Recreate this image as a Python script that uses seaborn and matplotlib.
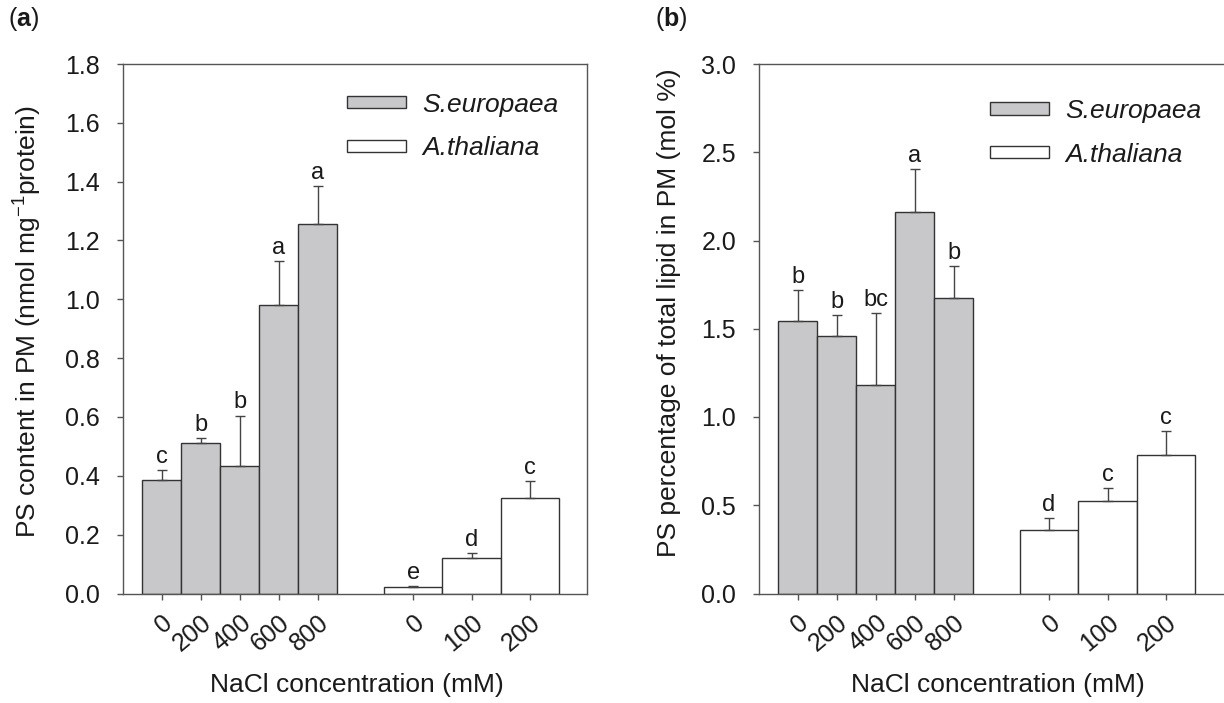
import numpy as np
import pandas as pd
import matplotlib
matplotlib.use("Agg")
import matplotlib.pyplot as plt
import seaborn as sns
from matplotlib.patches import Patch

# ---------------- data ----------------
se_labels = ["0", "200", "400", "600", "800"]
at_labels = ["0", "100", "200"]
species = ["S.europaea", "A.thaliana"]

# panel (a): PS content in PM
a_se_mean = [0.385, 0.510, 0.434, 0.982, 1.257]
a_se_err = [0.035, 0.020, 0.171, 0.149, 0.129]
a_se_letters = ["c", "b", "b", "a", "a"]
a_at_mean = [0.022, 0.120, 0.326]
a_at_err = [0.004, 0.019, 0.055]
a_at_letters = ["e", "d", "c"]

# panel (b): PS percentage of total lipid
b_se_mean = [1.545, 1.457, 1.181, 2.160, 1.675]
b_se_err = [0.175, 0.122, 0.410, 0.245, 0.179]
b_se_letters = ["b", "b", "bc", "a", "b"]
b_at_mean = [0.357, 0.526, 0.783]
b_at_err = [0.069, 0.070, 0.139]
b_at_letters = ["d", "c", "c"]

# ---------------- style ----------------
sns.set_theme(style="white")
plt.rcParams["font.family"] = ["Liberation Sans", "DejaVu Sans"]
plt.rcParams["mathtext.fontset"] = "custom"
plt.rcParams["mathtext.rm"] = "Liberation Sans"
plt.rcParams["mathtext.it"] = "Liberation Sans:italic"
plt.rcParams["mathtext.bf"] = "Liberation Sans:bold"

GRAY = "#c8c8ca"
EDGE = "#333333"
AXC = "#555555"
TXT = "#1a1a1a"

TICK_FS = 18
LAB_FS = 19
LET_FS = 17
LEG_FS = 19

# layout positions (in bar-width units)
se_pos = np.arange(1, 6, dtype=float)
at_pos = 7.44 + 1.5 * np.arange(3)
XMAX = 11.9

fig = plt.figure(figsize=(12.24, 7.03), dpi=100)
W = 464 / 1224
ax_a = fig.add_axes([123 / 1224, 1 - 593.5 / 703, W, 529.5 / 703])
ax_b = fig.add_axes([759 / 1224, 1 - 593.5 / 703, W, 529.5 / 703])


def draw(ax, se_m, se_e, se_l, at_m, at_e, at_l, ymax, ystep, ylabel, ylab_xy, xlab_xy, leg_xy):
    df_se = pd.DataFrame({"x": se_pos, "y": se_m})
    df_at = pd.DataFrame({"x": at_pos, "y": at_m})
    sns.barplot(data=df_se, x="x", y="y", native_scale=True, width=1.0,
                color=GRAY, saturation=1, edgecolor=EDGE, linewidth=1.0,
                errorbar=None, ax=ax)
    sns.barplot(data=df_at, x="x", y="y", native_scale=True, width=1.0,
                color="white", saturation=1, edgecolor=EDGE, linewidth=1.0,
                errorbar=None, ax=ax)
    for pos, m, e, labs in [(se_pos, se_m, se_e, se_l), (at_pos, at_m, at_e, at_l)]:
        m = np.asarray(m)
        e = np.asarray(e)
        ax.errorbar(pos, m, yerr=[np.zeros_like(e), e], fmt="none",
                    ecolor="#444444", elinewidth=1.0, capsize=3.5, capthick=1.0)
        for p, top, lab in zip(pos, m + e, labs):
            ax.annotate(lab, (p, top), xytext=(0, 1.5), textcoords="offset points",
                        ha="center", va="bottom", fontsize=LET_FS, color=TXT)
    ax.set_xlim(0, XMAX)
    ax.set_ylim(0, ymax)
    ticks = np.arange(0, ymax + ystep / 2, ystep)
    ax.set_yticks(ticks)
    ax.set_yticklabels([f"{t:.1f}" for t in ticks], fontsize=TICK_FS, color=TXT)
    ax.set_xticks(np.concatenate([se_pos, at_pos]))
    ax.set_xticklabels(se_labels + at_labels, rotation=40, ha="right",
                       rotation_mode="anchor", fontsize=TICK_FS, color=TXT)
    ax.tick_params(axis="both", direction="out", length=4.5, width=1.0,
                   color=AXC, left=True, bottom=True)
    ax.tick_params(axis="y", pad=12)
    ax.tick_params(axis="x", pad=8)
    for s in ax.spines.values():
        s.set_color(AXC)
        s.set_linewidth(1.0)
    ax.set_ylabel(ylabel, fontsize=LAB_FS, color=TXT)
    ax.yaxis.set_label_coords(*ylab_xy)
    ax.set_xlabel("NaCl concentration (mM)", fontsize=LAB_FS, color=TXT)
    ax.xaxis.set_label_coords(*xlab_xy)
    handles = [Patch(facecolor=GRAY, edgecolor=EDGE, linewidth=1.0),
               Patch(facecolor="white", edgecolor=EDGE, linewidth=1.0)]
    leg = ax.legend(handles, species, loc="center left", bbox_to_anchor=leg_xy,
                    frameon=False, handlelength=2.25, handleheight=0.35,
                    handletextpad=0.6, labelspacing=0.75, borderpad=0,
                    borderaxespad=0, prop={"style": "italic", "size": LEG_FS})
    for t in leg.get_texts():
        t.set_color(TXT)


draw(ax_a, a_se_mean, a_se_err, a_se_letters, a_at_mean, a_at_err, a_at_letters,
     1.8, 0.2, r"PS content in PM (nmol mg$^{-1}$protein)",
     (-0.170, 0.514), (0.505, -0.150), (0.483, 0.882))
draw(ax_b, b_se_mean, b_se_err, b_se_letters, b_at_mean, b_at_err, b_at_letters,
     3.0, 0.5, "PS percentage of total lipid in PM (mol %)",
     (-0.168, 0.530), (0.515, -0.150), (0.498, 0.870))
ax_b.spines["right"].set_visible(False)

fig.text(8 / 1224, 1 - 19 / 703, r"($\mathbf{a}$)", fontsize=18, va="center", ha="left", color=TXT)
fig.text(655 / 1224, 1 - 19 / 703, r"($\mathbf{b}$)", fontsize=18, va="center", ha="left", color=TXT)

fig.savefig("out.png", dpi=100)
